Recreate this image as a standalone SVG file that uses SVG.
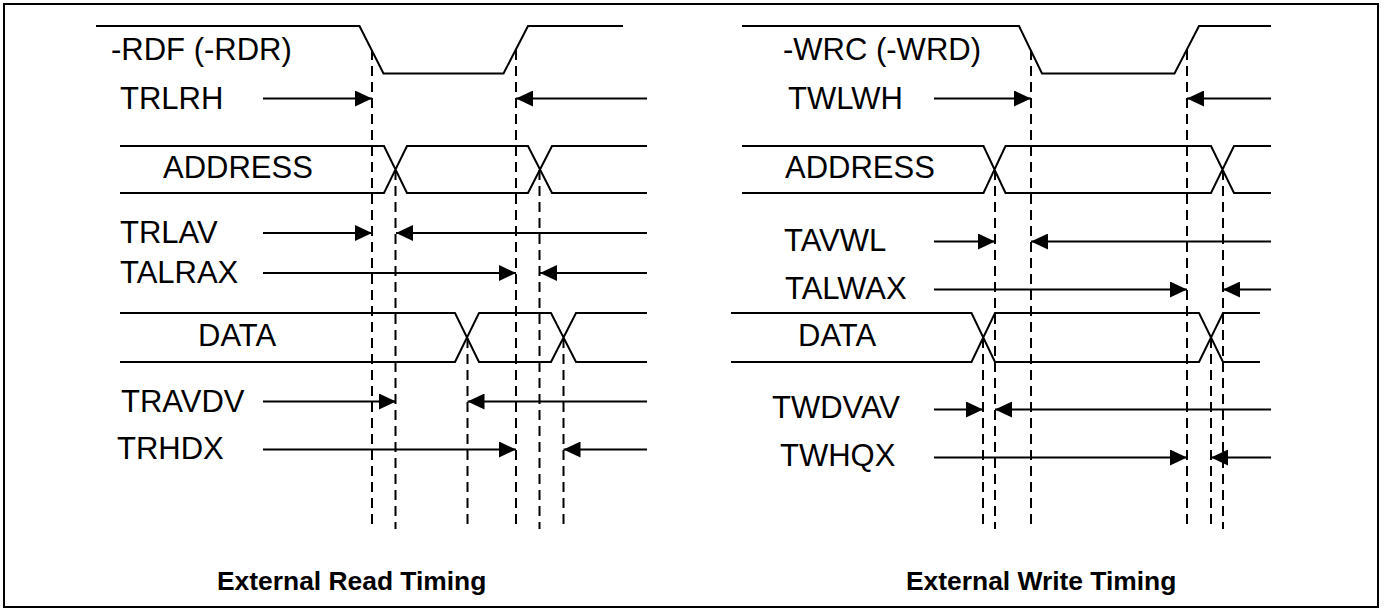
<svg xmlns="http://www.w3.org/2000/svg" width="1385" height="610" viewBox="0 0 1385 610">
<defs>
<style>
.sig{fill:none;stroke:#000;stroke-width:2;stroke-linejoin:miter}
.lbl{font-family:"Liberation Sans",Arial,sans-serif;font-size:31px;fill:#000}
.cap{font-family:"Liberation Sans",Arial,sans-serif;font-size:26.4px;font-weight:bold;fill:#000}
.arr{stroke:#000;stroke-width:2;fill:none;marker-end:url(#ah)}
.dash{stroke:#000;stroke-width:2;fill:none;stroke-dasharray:10 6}
</style>
<marker id="ah" viewBox="0 0 17 16" refX="17" refY="8" markerWidth="17" markerHeight="16" markerUnits="userSpaceOnUse" orient="auto">
<path d="M0,0 L17,8 L0,16 z" fill="#000"/>
</marker>
</defs>
<rect x="4" y="4" width="1374" height="603" fill="#fff" stroke="#000" stroke-width="2"/>

<g id="read-rdf">
<path class="sig" d="M96,26 H359.5 L383.5,73.5 H503.5 L528,26 H623"/>
<text class="lbl" x="111" y="59.5">-RDF (-RDR)</text>
</g>
<g id="read-trlrh"><text class="lbl" x="120" y="108.5">TRLRH</text></g>
<g id="read-address">
<path class="sig" d="M120,146 H384 L407,193 H528 L552,146 H647 M120,193 H384 L407,146 H528 L552,193 H647"/>
<text class="lbl" x="163" y="178">ADDRESS</text>
</g>
<g id="read-trlav"><text class="lbl" x="120" y="243">TRLAV</text></g>
<g id="read-talrax"><text class="lbl" x="120" y="283">TALRAX</text></g>
<g id="read-data">
<path class="sig" d="M120,313 H455 L479,362 H551 L576,313 H647 M120,362 H455 L479,313 H551 L576,362 H647"/>
<text class="lbl" x="198" y="346">DATA</text>
</g>
<g id="read-travdv"><text class="lbl" x="121" y="411.5">TRAVDV</text></g>
<g id="read-trhdx"><text class="lbl" x="117" y="459">TRHDX</text></g>
<g id="read-caption"><text class="cap" x="217" y="590">External Read Timing</text></g>

<g id="write-wrc">
<path class="sig" d="M742,26 H1019 L1042,73.5 H1174.5 L1199,26 H1271"/>
<text class="lbl" x="783" y="59.5">-WRC (-WRD)</text>
</g>
<g id="write-twlwh"><text class="lbl" x="788" y="108.5">TWLWH</text></g>
<g id="write-address">
<path class="sig" d="M742,146 H983.5 L1005.5,193 H1211 L1234,146 H1271 M742,193 H983.5 L1005.5,146 H1211 L1234,193 H1271"/>
<text class="lbl" x="785" y="178">ADDRESS</text>
</g>
<g id="write-tavwl"><text class="lbl" x="784" y="250.5">TAVWL</text></g>
<g id="write-talwax"><text class="lbl" x="785" y="299">TALWAX</text></g>
<g id="write-data">
<path class="sig" d="M731,313 H971.5 L995,362 H1199 L1223,313 H1260 M731,362 H971.5 L995,313 H1199 L1223,362 H1260"/>
<text class="lbl" x="798" y="346">DATA</text>
</g>
<g id="write-twdvav"><text class="lbl" x="772" y="418">TWDVAV</text></g>
<g id="write-twhqx"><text class="lbl" x="780" y="465.5">TWHQX</text></g>
<g id="write-caption"><text class="cap" x="906" y="590">External Write Timing</text></g>

<g id="connectors">
<line class="dash" x1="372" y1="50" x2="372" y2="529"/>
<line class="dash" x1="516" y1="50" x2="516" y2="529"/>
<line class="dash" x1="395.5" y1="170" x2="395.5" y2="529"/>
<line class="dash" x1="539.5" y1="170" x2="539.5" y2="529"/>
<line class="dash" x1="467.5" y1="338" x2="467.5" y2="528"/>
<line class="dash" x1="563.5" y1="338" x2="563.5" y2="528"/>

<line class="dash" x1="1031" y1="50" x2="1031" y2="529"/>
<line class="dash" x1="1187" y1="50" x2="1187" y2="529"/>
<line class="dash" x1="995" y1="170" x2="995" y2="529"/>
<line class="dash" x1="1223" y1="170" x2="1223" y2="529"/>
<line class="dash" x1="983" y1="338" x2="983" y2="528"/>
<line class="dash" x1="1211" y1="338" x2="1211" y2="528"/>

<line class="arr" x1="263" y1="98.5" x2="372" y2="98.5"/>
<line class="arr" x1="647" y1="98.5" x2="516" y2="98.5"/>
<line class="arr" x1="263" y1="233" x2="372" y2="233"/>
<line class="arr" x1="647" y1="233" x2="396" y2="233"/>
<line class="arr" x1="263" y1="273" x2="516" y2="273"/>
<line class="arr" x1="647" y1="273" x2="540" y2="273"/>
<line class="arr" x1="263" y1="401.5" x2="396" y2="401.5"/>
<line class="arr" x1="647" y1="401.5" x2="467.5" y2="401.5"/>
<line class="arr" x1="263" y1="449.5" x2="516" y2="449.5"/>
<line class="arr" x1="647" y1="449.5" x2="563.5" y2="449.5"/>

<line class="arr" x1="934" y1="98.5" x2="1031" y2="98.5"/>
<line class="arr" x1="1271" y1="98.5" x2="1187" y2="98.5"/>
<line class="arr" x1="934" y1="241.5" x2="995" y2="241.5"/>
<line class="arr" x1="1271" y1="241.5" x2="1031" y2="241.5"/>
<line class="arr" x1="934" y1="289.5" x2="1187" y2="289.5"/>
<line class="arr" x1="1271" y1="289.5" x2="1223" y2="289.5"/>
<line class="arr" x1="934" y1="409.5" x2="983" y2="409.5"/>
<line class="arr" x1="1271" y1="409.5" x2="995" y2="409.5"/>
<line class="arr" x1="934" y1="457.5" x2="1187" y2="457.5"/>
<line class="arr" x1="1271" y1="457.5" x2="1211" y2="457.5"/>
</g>
</svg>
